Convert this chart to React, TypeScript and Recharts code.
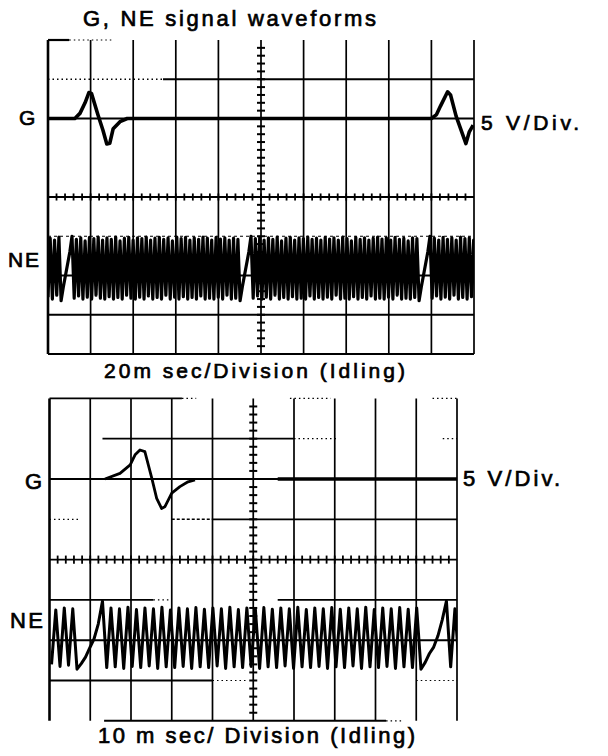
import React from 'react';
import { ComposedChart, Line, XAxis, YAxis, ReferenceLine } from 'recharts';

// All values are in scope divisions: 10 across (time), 8 tall (voltage), centre line = 0.

const TITLE = 'G, NE signal waveforms';
const TOP_CAPTION = '20m sec/Division (Idling)';
const BOTTOM_CAPTION = '10 m sec/ Division (Idling)';
const VOLT_LABEL = '5 V/Div.';
const CHANNELS = ['G', 'NE'];

// --- upper trace, 20 ms/div ---
const G_TOP_TIME = [0, 0.63, 0.75, 0.87, 0.96, 1.02, 1.17, 1.29, 1.38, 1.45, 1.53, 1.69, 1.86, 9.0, 9.12, 9.21, 9.38, 9.45, 9.58, 9.81, 9.89, 9.98];
const G_TOP_LEVEL = [2.0, 2.0, 2.13, 2.4, 2.66, 2.64, 2.1, 1.7, 1.35, 1.37, 1.74, 1.92, 2.0, 2.0, 2.1, 2.31, 2.68, 2.6, 2.06, 1.36, 1.66, 1.83];

const NE_TOP_START = 0;
const NE_TOP_STEP = 0.05124;
const NE_TOP_LEVEL = [
  -2.55, -1.05, -2.6, -1.1, -2.5, -1.02, -2.64, -2.3, -2.0, -1.7,
  -1.4, -1.0, -2.58, -1.08, -2.52, -1.04, -2.6, -1.12, -2.55, -1.03,
  -2.6, -1.06, -2.5, -1.02, -2.58, -1.1, -2.6, -1.04, -2.54, -1.08,
  -2.6, -1.02, -2.56, -1.12, -2.6, -1.05, -2.5, -1.03, -2.58, -1.1,
  -2.6, -1.04, -2.55, -1.06, -2.6, -1.02, -2.52, -1.1, -2.6, -1.05,
  -2.56, -1.03, -2.6, -1.08, -2.5, -1.04, -2.6, -1.12, -2.55, -1.02,
  -2.6, -1.06, -2.54, -1.03, -2.6, -1.1, -2.56, -1.04, -2.6, -1.08,
  -2.52, -1.02, -2.6, -1.05, -2.58, -1.1, -2.6, -1.03, -2.55, -1.07,
  -2.6, -1.04, -2.5, -1.1, -2.6, -1.05, -2.58, -1.08, -2.64, -2.3,
  -2.0, -1.7, -1.4, -1.0, -2.58, -1.06, -2.52, -1.03, -2.6, -1.1,
  -2.55, -1.04, -2.6, -1.08, -2.5, -1.02, -2.6, -1.12, -2.56, -1.05,
  -2.6, -1.03, -2.54, -1.1, -2.6, -1.04, -2.58, -1.06, -2.6, -1.02,
  -2.52, -1.08, -2.6, -1.05, -2.56, -1.1, -2.6, -1.03, -2.55, -1.07,
  -2.6, -1.04, -2.5, -1.1, -2.6, -1.02, -2.58, -1.06, -2.6, -1.12,
  -2.54, -1.03, -2.6, -1.08, -2.56, -1.04, -2.6, -1.1, -2.52, -1.05,
  -2.6, -1.02, -2.58, -1.07, -2.6, -1.04, -2.55, -1.1, -2.6, -1.03,
  -2.5, -1.08, -2.6, -1.05, -2.58, -1.12, -2.6, -1.04, -2.56, -1.06,
  -2.64, -2.3, -2.0, -1.7, -1.4, -1.0, -2.58, -1.05, -2.52, -1.1,
  -2.6, -1.03, -2.55, -1.08, -2.6, -1.04, -2.5, -1.1, -2.6, -1.02,
  -2.56, -1.06, -2.6, -1.04, -2.54, -1.1, -2.6,
];

// --- lower trace, 10 ms/div ---
const G_BOTTOM_PULSE_TIME = [1.36, 1.73, 1.98, 2.1, 2.22, 2.34, 2.51, 2.63, 2.75, 2.83, 3.0, 3.2, 3.4, 3.57];
const G_BOTTOM_PULSE_LEVEL = [2.0, 2.14, 2.35, 2.6, 2.72, 2.68, 2.02, 1.52, 1.27, 1.31, 1.65, 1.81, 1.93, 1.98];
const G_BOTTOM_FLAT_TIME = [5.6, 10];
const G_BOTTOM_FLAT_LEVEL = [2.0, 2.0];

const NE_BOTTOM_START = 0.05;
const NE_BOTTOM_STEP = 0.1042;
const NE_BOTTOM_LEVEL = [
  -2.6, -1.25, -2.65, -1.2, -2.62, -1.22, -2.72, -2.58, -2.42, -2.19,
  -1.97, -1.6, -1.03, -2.68, -1.2, -2.66, -1.22, -2.7, -1.18, -2.65,
  -1.24, -2.68, -1.2, -2.64, -1.22, -2.7, -1.18, -2.66, -1.25, -2.68,
  -1.2, -2.65, -1.22, -2.7, -1.19, -2.66, -1.23, -2.68, -1.2, -2.64,
  -1.22, -2.7, -1.18, -2.66, -1.24, -2.68, -1.2, -2.65, -1.22, -2.7,
  -1.19, -2.66, -1.23, -2.68, -1.2, -2.64, -1.22, -2.7, -1.18, -2.66,
  -1.24, -2.68, -1.2, -2.65, -1.22, -2.7, -1.19, -2.66, -1.23, -2.68,
  -1.2, -2.64, -1.22, -2.7, -1.18, -2.66, -1.24, -2.68, -1.2, -2.65,
  -1.22, -2.7, -1.19, -2.66, -1.23, -2.68, -1.2, -2.72, -2.55, -2.33,
  -2.17, -1.89, -1.5, -1.03, -2.66, -1.22, -2.64,
];

const pairs = (xs: number[], ys: number[]) => xs.map((x, i) => ({ x, y: ys[i] }));
const sampled = (start: number, step: number, ys: number[]) => ys.map((y, i) => ({ x: start + i * step, y }));

type Seg = { x1: number; y1: number; x2: number; y2: number; w?: number; dash?: string };

const h = (y: number, x1: number, x2: number, w = 1.6, dash?: string): Seg => ({ x1, y1: y, x2, y2: y, w, dash });
const v = (x: number, y1: number, y2: number, w = 1.6, dash?: string): Seg => ({ x1: x, y1, x2: x, y2, w, dash });
const DOT = '1.5 3';

const verticals = Array.from({ length: 11 }, (_, i) => v(i, -4, 4, i === 0 ? 2.6 : 1.7));

function centreTicks(hx: number, hy: number): Seg[] {
  const out: Seg[] = [];
  for (let k = 1; k < 50; k++) {
    const x = k * 0.2;
    out.push({ x1: x, y1: -hy, x2: x, y2: hy, w: 1.8 });
  }
  for (let k = 1; k < 40; k++) {
    const y = -4 + k * 0.2;
    out.push({ x1: 5 - hx, y1: y, x2: 5 + hx, y2: y, w: 2 });
  }
  return out;
}

const TOP_GRID: Seg[] = [
  ...verticals,
  h(4, 0, 0.5, 2.2), h(4, 0.5, 1.5, 1.2, DOT),
  h(3, 0, 2.7, 1.4, DOT), h(3, 2.7, 10, 1.8),
  h(2, 0, 10, 1.8),
  h(0, 0, 10, 1.9),
  h(-1, 0, 10, 1.2, '3 3'),
  h(-2, 0, 10, 1.8),
  h(-3, 0, 10, 1.8),
  h(-4, 0, 10, 2),
  ...centreTicks(0.094, 0.09),
];

const BOTTOM_GRID: Seg[] = [
  ...verticals,
  h(4, 0, 3.25, 1.8), h(4, 3.25, 3.6, 1.2, DOT), h(4, 5.9, 6.9, 1.2, DOT), h(4, 9.4, 10, 1.2, DOT),
  h(3, 1.3, 6.0, 1.8), h(3, 6.0, 7.1, 1.2, DOT), h(3, 9.65, 10, 1.2, DOT),
  h(2, 0, 10, 1.8),
  h(1, 0, 0.7, 1.2, DOT), h(1, 3.0, 4.0, 1.4, '3 2'), h(1, 4.0, 10, 1.8),
  h(0, 0, 10, 1.9),
  h(-1, 0, 2.55, 1.8), h(-1, 2.55, 3.0, 1.2, DOT), h(-1, 4.9, 5.1, 1.4, '3 2'), h(-1, 5.6, 10, 1.8),
  h(-2, 0, 10, 1.9),
  h(-3, 0, 4.0, 1.8), h(-3, 4.0, 4.85, 1.2, DOT), h(-3, 9.0, 10, 1.2, DOT),
  h(-4, 1.34, 8.26, 1.9), h(-4, 8.26, 8.7, 1.2, DOT),
  ...centreTicks(0.098, 0.1),
];

type Trace = { key: string; data: { x: number; y: number }[]; width: number };

const TOP_TRACES: Trace[] = [
  { key: 'g', data: pairs(G_TOP_TIME, G_TOP_LEVEL), width: 3.6 },
  { key: 'ne', data: sampled(NE_TOP_START, NE_TOP_STEP, NE_TOP_LEVEL), width: 3.2 },
];

const BOTTOM_TRACES: Trace[] = [
  { key: 'g-pulse', data: pairs(G_BOTTOM_PULSE_TIME, G_BOTTOM_PULSE_LEVEL), width: 2.8 },
  { key: 'g-flat', data: pairs(G_BOTTOM_FLAT_TIME, G_BOTTOM_FLAT_LEVEL), width: 3.6 },
  { key: 'ne', data: sampled(NE_BOTTOM_START, NE_BOTTOM_STEP, NE_BOTTOM_LEVEL), width: 3.0 },
];

type ScopeProps = {
  top: number;
  height: number;
  margin: { top: number; right: number; bottom: number; left: number };
  grid: Seg[];
  traces: Trace[];
};

function Scope({ top, height, margin, grid, traces }: ScopeProps) {
  return (
    <div style={{ position: 'absolute', left: 0, top }}>
      <ComposedChart width={608} height={height} margin={margin}>
        <XAxis type="number" dataKey="x" domain={[0, 10]} allowDataOverflow hide />
        <YAxis type="number" dataKey="y" domain={[-4, 4]} allowDataOverflow hide />
        {grid.map((s, i) => (
          <ReferenceLine
            key={`g${i}`}
            segment={[{ x: s.x1, y: s.y1 }, { x: s.x2, y: s.y2 }]}
            stroke="#000"
            strokeWidth={s.w}
            strokeDasharray={s.dash}
            ifOverflow="visible"
          />
        ))}
        {traces.map((t) => (
          <Line
            key={t.key}
            data={t.data}
            dataKey="y"
            type="linear"
            stroke="#000"
            strokeWidth={t.width}
            strokeLinejoin="round"
            dot={false}
            activeDot={false}
            isAnimationActive={false}
          />
        ))}
      </ComposedChart>
    </div>
  );
}

const FONT = '"Liberation Sans", Arial, Helvetica, sans-serif';

export default function App() {
  return (
    <div style={{ position: 'absolute', left: 0, top: 0, width: 608, height: 756, background: '#fff', overflow: 'hidden' }}>
      <Scope top={0} height={380} margin={{ top: 40, right: 134, bottom: 26, left: 48 }} grid={TOP_GRID} traces={TOP_TRACES} />
      <Scope top={380} height={376} margin={{ top: 18.4, right: 151, bottom: 35.2, left: 49.5 }} grid={BOTTOM_GRID} traces={BOTTOM_TRACES} />
      <svg width={608} height={756} style={{ position: 'absolute', left: 0, top: 0, pointerEvents: 'none' }} fontFamily={FONT} fill="#000" stroke="#000" strokeWidth={0.7}>
        <text x={83} y={26} fontSize={22} textLength={293} lengthAdjust="spacing">{TITLE}</text>
        <text x={19} y={125} fontSize={21}>{CHANNELS[0]}</text>
        <text x={481} y={130} fontSize={21} textLength={98} lengthAdjust="spacing">{VOLT_LABEL}</text>
        <text x={8} y={267} fontSize={21} textLength={31} lengthAdjust="spacing">{CHANNELS[1]}</text>
        <text x={104} y={378} fontSize={21} textLength={301} lengthAdjust="spacing">{TOP_CAPTION}</text>
        <text x={25} y={489} fontSize={22}>{CHANNELS[0]}</text>
        <text x={463} y={486} fontSize={22} textLength={97} lengthAdjust="spacing">{VOLT_LABEL}</text>
        <text x={10} y={628} fontSize={22} textLength={33} lengthAdjust="spacing">{CHANNELS[1]}</text>
        <text x={98} y={743} fontSize={22} textLength={317} lengthAdjust="spacing">{BOTTOM_CAPTION}</text>
      </svg>
    </div>
  );
}
